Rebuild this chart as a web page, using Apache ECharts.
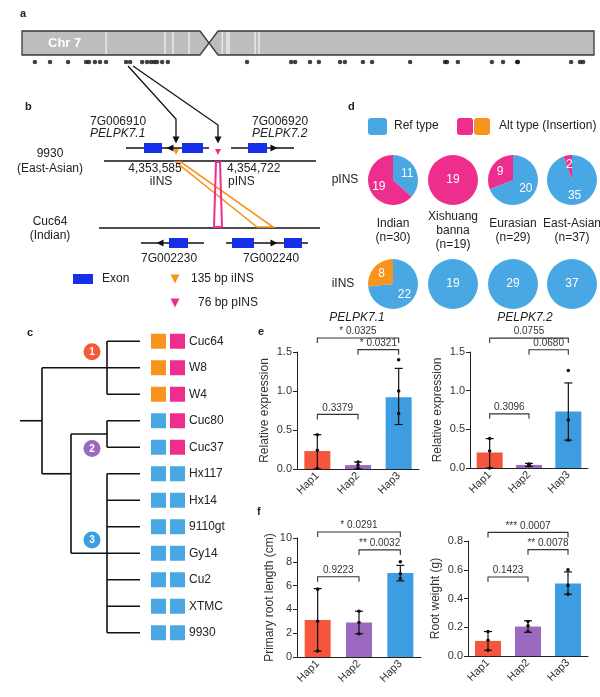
<!DOCTYPE html>
<html><head><meta charset="utf-8">
<script src="https://cdn.jsdelivr.net/npm/echarts@6/dist/echarts.min.js"></script>
<style>html,body{margin:0;padding:0;background:#fff}#c{width:600px;height:697px}</style>
</head><body><div id="c"></div>
<script>
// ---------------- DATA ----------------
// a: marker positions along chromosome 7 (Mb)
const chrMarkersMb = [0.45,0.98,1.61,2.24,2.34,2.55,2.73,2.94,3.64,3.78,4.20,4.37,4.51,4.62,4.72,4.90,5.10,7.87,9.41,9.55,10.07,10.38,11.12,11.29,11.92,12.24,13.57,14.79,14.86,15.24,16.43,16.82,17.31,17.34,19.20,19.51,19.62];
const chrGapsMb = [2.94,5.00,5.28,5.84,7.0,7.17,7.24,8.15,8.29];
// d: population pies
const popNames = ['Indian','Xishuang\nbanna','Eurasian','East-Asian'];
const popN = [30,19,29,37];
const pINS_ref = [11,0,20,35];
const pINS_alt = [19,19,9,2];
const iINS_ref = [22,19,29,37];
const iINS_alt = [8,0,0,0];
// c: accessions and genotypes
const accessions = ['Cuc64','W8','W4','Cuc80','Cuc37','Hx117','Hx14','9110gt','Gy14','Cu2','XTMC','9930'];
const iINS_geno = ['Alt','Alt','Alt','Ref','Ref','Ref','Ref','Ref','Ref','Ref','Ref','Ref'];
const pINS_geno = ['Alt','Alt','Alt','Alt','Alt','Ref','Ref','Ref','Ref','Ref','Ref','Ref'];
// e/f: haplotype bar charts
const haps = ['Hap1','Hap2','Hap3'];
const expr71_mean = [0.23,0.05,0.92];
const expr71_lo = [0.0,0.0,0.57];
const expr71_hi = [0.44,0.09,1.29];
const expr71_pts = [[0.44,0.24,0.01],[0.09,0.05,0.01],[1.40,1.00,0.71]];
const expr71_p = [[0,2,1.68,'* 0.0325'],[1,2,1.53,'* 0.0321'],[0,1,0.70,'0.3379']];
const expr72_mean = [0.20,0.04,0.73];
const expr72_lo = [0.0,0.02,0.36];
const expr72_hi = [0.38,0.06,1.10];
const expr72_pts = [[0.38,0.22,0.0],[0.05,0.04,0.03],[1.26,0.62,0.36]];
const expr72_p = [[0,2,1.68,'0.0755'],[1,2,1.53,'0.0680'],[0,1,0.70,'0.3096']];
const root_len_mean = [3.1,2.9,7.05];
const root_len_lo = [0.5,1.95,6.4];
const root_len_hi = [5.75,3.85,7.7];
const root_len_pts = [[5.7,3.0,0.5],[3.85,2.9,1.95],[8.0,7.0,6.6]];
const root_len_p = [[0,2,10.5,'* 0.0291'],[1,2,9.0,'** 0.0032'],[0,1,6.75,'0.9223']];
const root_wt_mean = [0.105,0.205,0.505];
const root_wt_lo = [0.04,0.165,0.43];
const root_wt_hi = [0.17,0.245,0.585];
const root_wt_pts = [[0.17,0.11,0.04],[0.24,0.21,0.17],[0.60,0.49,0.43]];
const root_wt_p = [[0,2,0.86,'*** 0.0007'],[1,2,0.74,'** 0.0078'],[0,1,0.55,'0.1423']];

// ---------------- STYLE ----------------
const FONT = '"Liberation Sans", Arial, Helvetica, sans-serif';
const BLUE='#49a7e3', PINK='#ee2e8c', ORANGE='#f7941d', EXON='#1530e8';
const HAPCOL=['#f3563d','#9c69c1','#3d9de0'];
const TXT='#222';

const G=[];
function txt(x,y,s,o){o=o||{};G.push({type:'text',x:x,y:y,z:10,silent:true,style:{text:s,fill:o.fill||TXT,font:(o.pre||'')+(o.size||12)+'px '+FONT,textAlign:o.align||'left',textVerticalAlign:o.va||'middle',lineHeight:o.lh||14}});}
function line(x1,y1,x2,y2,c,lw){G.push({type:'line',z:5,silent:true,shape:{x1,y1,x2,y2},style:{stroke:c||'#111',lineWidth:lw||1.3}});}
function poly(pts,stroke,fill,lw,closed){G.push({type:closed===false?'polyline':'polygon',z:5,silent:true,shape:{points:pts},style:{stroke:stroke||null,fill:fill||null,lineWidth:lw||1.3}});}
function rect(x,y,w,h,c,r){G.push({type:'rect',z:6,silent:true,shape:{x,y,width:w,height:h,r:r||0},style:{fill:c}});}
function tri(cx,cy,s,c,dir){ // dir: down/left/right
  if(dir==='left') poly([[cx-s/2,cy],[cx+s/2,cy-s/2],[cx+s/2,cy+s/2]],null,c);
  else if(dir==='right') poly([[cx+s/2,cy],[cx-s/2,cy-s/2],[cx-s/2,cy+s/2]],null,c);
  else poly([[cx-s/2,cy-s/2],[cx+s/2,cy-s/2],[cx,cy+s/2]],null,c);
}

// panel letters
txt(20,14,'a',{pre:'bold ',size:11});
txt(25,107,'b',{pre:'bold ',size:11});
txt(27,333,'c',{pre:'bold ',size:11});
txt(348,107,'d',{pre:'bold ',size:11});
txt(258,332,'e',{pre:'bold ',size:11});
txt(257,512,'f',{pre:'bold ',size:11});

// a: chromosome
const CHR_L=22, CHR_W=572, CHR_MB=20;
const mb2px = mb => CHR_L + mb/CHR_MB*CHR_W;
poly([[22,31],[200,31],[209,43],[200,55],[22,55]],'#3a3a3a','#bdbdbd',1.3);
poly([[218,31],[594,31],[594,55],[218,55],[209,43]],'#3a3a3a','#bdbdbd',1.3);
chrGapsMb.forEach(m=>{const x=mb2px(m); G.push({type:'line',z:7,silent:true,shape:{x1:x,y1:32,x2:x,y2:54},style:{stroke:'#fff',lineWidth:1}});});
txt(48,43,'Chr 7',{fill:'#fff',pre:'bold ',size:13});
// arrows to b
poly([[128,66],[176,119],[176,137]],'#111',null,1.3,false); tri(176,140,7,'#111','down');
poly([[133,66],[218,125],[218,137]],'#111',null,1.3,false); tri(218,140,7,'#111','down');

// b: gene schematic
txt(90,122,'7G006910'); txt(90,134,'PELPK7.1',{pre:'italic '});
txt(252,122,'7G006920'); txt(252,134,'PELPK7.2',{pre:'italic '});
line(126,148,209,148); rect(144,143,18,10,EXON); rect(182,143,21,10,EXON); tri(170,148,7,'#111','left');
line(231,148,294,148); rect(248,143,19,10,EXON); tri(274,148,7,'#111','right');
tri(176,152,6,ORANGE,'down'); tri(218,152,6,PINK,'down');
line(104,161,316,161,'#111',1.4);
line(99,228,320,228,'#111',1.4);
poly([[176,162],[181,162],[273,227],[257,227]],ORANGE,null,1.6);
poly([[216,162],[220,162],[222,227],[214,227]],PINK,null,2);
txt(50,154,'9930',{align:'center'}); txt(50,169,'(East-Asian)',{align:'center'});
txt(155,169,'4,353,585',{align:'center'}); txt(161,182,'iINS',{align:'center'});
txt(227,169,'4,354,722'); txt(228,182,'pINS');
txt(50,222,'Cuc64',{align:'center'}); txt(50,236,'(Indian)',{align:'center'});
line(141,243,204,243); rect(169,238,19,10,EXON); tri(160,243,7,'#111','left');
line(226,243,308,243); rect(232,238,22,10,EXON); rect(284,238,18,10,EXON); tri(274,243,7,'#111','right');
txt(141,259,'7G002230'); txt(243,259,'7G002240');
rect(73,274,20,10,EXON); txt(102,279,'Exon');
tri(175,279,9,ORANGE,'down'); txt(191,279,'135 bp iINS');
tri(175,303,9,PINK,'down'); txt(198,303,'76 bp pINS');

// d: legend + row labels + population labels
rect(368,118,19,17,BLUE,3); txt(394,126,'Ref type');
rect(457,118,16,17,PINK,3); rect(474,118,16,17,ORANGE,3); txt(499,126,'Alt type (Insertion)');
txt(345,180,'pINS',{align:'center'}); txt(343,284,'iINS',{align:'center'});
const pieX=[393,453,513,572];
popNames.forEach((n,i)=>txt(pieX[i],231,n+'\n(n='+popN[i]+')',{align:'center'}));

// e titles
txt(357,318,'PELPK7.1',{pre:'italic ',align:'center'});
txt(525,318,'PELPK7.2',{pre:'italic ',align:'center'});

// ---------------- SERIES ----------------
const series=[];
// chromosome markers
series.push({type:'scatter',xAxisIndex:0,yAxisIndex:0,symbolSize:4.5,itemStyle:{color:'#111'},data:chrMarkersMb.map(m=>[m,0]),silent:true});

// pies
function pieSeries(cx,cy,ref,alt,altColor){
  const d=[];
  if(ref>0) d.push({value:ref,name:'Ref type',itemStyle:{color:BLUE}});
  if(alt>0) d.push({value:alt,name:'Alt type',itemStyle:{color:altColor}});
  return {type:'pie',center:[cx,cy],radius:[0,25],startAngle:90,clockwise:true,silent:true,
    label:{show:true,position:d.length===1?'center':'inside',formatter:'{c}',color:'#fff',fontSize:12,fontFamily:FONT},
    labelLine:{show:false},itemStyle:{borderWidth:0},data:d};
}
popNames.forEach((n,i)=>{
  series.push(pieSeries(pieX[i],180,pINS_ref[i],pINS_alt[i],PINK));
  series.push(pieSeries(pieX[i],284,iINS_ref[i],iINS_alt[i],ORANGE));
});

// tree (c)
const treeNodes={
  root:{x:22,stubFrom:0,kids:['c1','B']},
  c1:{x:87,kids:[0,1,2]},
  B:{x:51,y:5,kids:['c2','c3']},
  c2:{x:87,kids:[3,4]},
  c3:{x:87,kids:[5,6,7,8,9,10,11]}
};
const leafX=120, sqX=[138.5,157.5], labX=169;
const cladeMarks=[[72,0.4,'1','#f15a3a'],[72,4.05,'2','#9b69bf'],[72,7.5,'3','#3b9fdf']];
function nodeY(k){ if(typeof k==='number') return k; const n=treeNodes[k]; if(n.y!==undefined) return n.y; return (nodeY(n.kids[0])+nodeY(n.kids[n.kids.length-1]))/2; }
series.push({type:'custom',xAxisIndex:1,yAxisIndex:1,silent:true,clip:false,data:[[0,0]],
  renderItem:function(p,api){
    const ch=[]; const L=(a,b)=>ch.push({type:'line',shape:{x1:a[0],y1:a[1],x2:b[0],y2:b[1]},style:{stroke:'#111',lineWidth:1.6}});
    Object.keys(treeNodes).forEach(k=>{
      const n=treeNodes[k];
      const y0=nodeY(n.kids[0]), y1=nodeY(n.kids[n.kids.length-1]);
      L(api.coord([n.x,y0]),api.coord([n.x,y1]));
      n.kids.forEach(c=>{ const cx = typeof c==='number'?leafX:treeNodes[c].x; L(api.coord([n.x,nodeY(c)]),api.coord([cx,nodeY(c)])); });
      if(n.stubFrom!==undefined){ const y=nodeY(k); L(api.coord([n.stubFrom,y]),api.coord([n.x,y])); }
    });
    accessions.forEach((a,i)=>{
      const c1=api.coord([sqX[0],i]), c2=api.coord([sqX[1],i]), cl=api.coord([labX,i]);
      ch.push({type:'rect',shape:{x:c1[0]-7.5,y:c1[1]-7.5,width:15,height:15},style:{fill:iINS_geno[i]==='Alt'?ORANGE:BLUE}});
      ch.push({type:'rect',shape:{x:c2[0]-7.5,y:c2[1]-7.5,width:15,height:15},style:{fill:pINS_geno[i]==='Alt'?PINK:BLUE}});
      ch.push({type:'text',style:{text:a,x:cl[0],y:cl[1],fill:TXT,font:'12px '+FONT,textAlign:'left',textVerticalAlign:'middle'}});
    });
    cladeMarks.forEach(m=>{
      const c=api.coord([m[0],m[1]]);
      ch.push({type:'circle',shape:{cx:c[0],cy:c[1],r:8.5},style:{fill:m[3]}});
      ch.push({type:'text',style:{text:m[2],x:c[0],y:c[1]+0.5,fill:'#fff',font:'bold 10px '+FONT,textAlign:'center',textVerticalAlign:'middle'}});
    });
    return {type:'group',children:ch};
  }});

// bar charts
function barBlock(gi,mean,lo,hi,pts,pv){
  series.push({type:'bar',xAxisIndex:gi,yAxisIndex:gi,barWidth:26,silent:true,
    data:mean.map((v,i)=>({value:v,itemStyle:{color:HAPCOL[i]}}))});
  series.push({type:'custom',xAxisIndex:gi,yAxisIndex:gi,silent:true,clip:false,z:5,data:[[0,0]],
    renderItem:function(p,api){
      const ch=[]; const S={stroke:'#111',lineWidth:1.2};
      for(let i=0;i<3;i++){
        const a=api.coord([i,lo[i]]), b=api.coord([i,hi[i]]);
        ch.push({type:'line',shape:{x1:a[0],y1:a[1],x2:b[0],y2:b[1]},style:S});
        ch.push({type:'line',shape:{x1:a[0]-4,y1:a[1],x2:a[0]+4,y2:a[1]},style:S});
        ch.push({type:'line',shape:{x1:b[0]-4,y1:b[1],x2:b[0]+4,y2:b[1]},style:S});
        pts[i].forEach(v=>{const c=api.coord([i,v]); ch.push({type:'circle',shape:{cx:c[0],cy:c[1],r:1.8},style:{fill:'#111'}});});
      }
      pv.forEach(q=>{
        const a=api.coord([q[0],q[2]]), b=api.coord([q[1],q[2]]);
        ch.push({type:'polyline',shape:{points:[[a[0],a[1]+5],[a[0],a[1]],[b[0],b[1]],[b[0],b[1]+5]]},style:{stroke:'#333',lineWidth:1.1,fill:null}});
        ch.push({type:'text',style:{text:q[3],x:(a[0]+b[0])/2,y:a[1]-1.5,fill:'#333',font:'10px '+FONT,textAlign:'center',textVerticalAlign:'bottom'}});
      });
      return {type:'group',children:ch};
    }});
}
barBlock(2,expr71_mean,expr71_lo,expr71_hi,expr71_pts,expr71_p);
barBlock(3,expr72_mean,expr72_lo,expr72_hi,expr72_pts,expr72_p);
barBlock(4,root_len_mean,root_len_lo,root_len_hi,root_len_pts,root_len_p);
barBlock(5,root_wt_mean,root_wt_lo,root_wt_hi,root_wt_pts,root_wt_p);

// ---------------- AXES ----------------
const grids=[
  {left:22,top:52,width:572,height:20},
  {left:20,top:328,width:180,height:318},
  {left:297,top:352,width:122,height:117},
  {left:470,top:352,width:118,height:116},
  {left:297,top:538,width:124,height:119},
  {left:468,top:541,width:120,height:115}
].map(g=>Object.assign({outerBoundsMode:'none',containLabel:false},g));
const AX='#222';
function catX(gi){return {type:'category',gridIndex:gi,data:haps,
  axisLine:{lineStyle:{color:AX,width:1}},axisTick:{alignWithLabel:true,length:4,lineStyle:{color:AX}},
  axisLabel:{rotate:45,margin:5,fontSize:11,color:'#333',fontFamily:FONT}};}
function valY(gi,max,intv,name,gap,dec){return {type:'value',gridIndex:gi,min:0,max:max,interval:intv,name:name,nameLocation:'middle',nameGap:gap,
  nameTextStyle:{fontSize:12,color:'#333',fontFamily:FONT},
  axisLine:{show:true,lineStyle:{color:AX,width:1}},axisTick:{show:true,length:4,lineStyle:{color:AX}},splitLine:{show:false},
  axisLabel:{fontSize:11,color:'#333',fontFamily:FONT,margin:5,formatter:v=>v.toFixed(dec)}};}
const xAxis=[
  {type:'value',gridIndex:0,min:0,max:CHR_MB,show:false},
  {type:'value',gridIndex:1,min:0,max:180,show:false},
  catX(2),catX(3),catX(4),catX(5)
];
const yAxis=[
  {type:'value',gridIndex:0,min:-1,max:1,show:false},
  {type:'value',gridIndex:1,min:-0.5,max:11.5,inverse:true,show:false},
  valY(2,1.5,0.5,'Relative expression',26,1),
  valY(3,1.5,0.5,'Relative expression',26,1),
  valY(4,10,2,'Primary root length (cm)',20,0),
  valY(5,0.8,0.2,'Root weight (g)',26,1)
];

const chart=echarts.init(document.getElementById('c'),null,{renderer:'canvas'});
chart.setOption({animation:false,backgroundColor:'#fff',textStyle:{fontFamily:FONT},
  grid:grids,xAxis:xAxis,yAxis:yAxis,series:series,graphic:{elements:G}});
</script></body></html>
